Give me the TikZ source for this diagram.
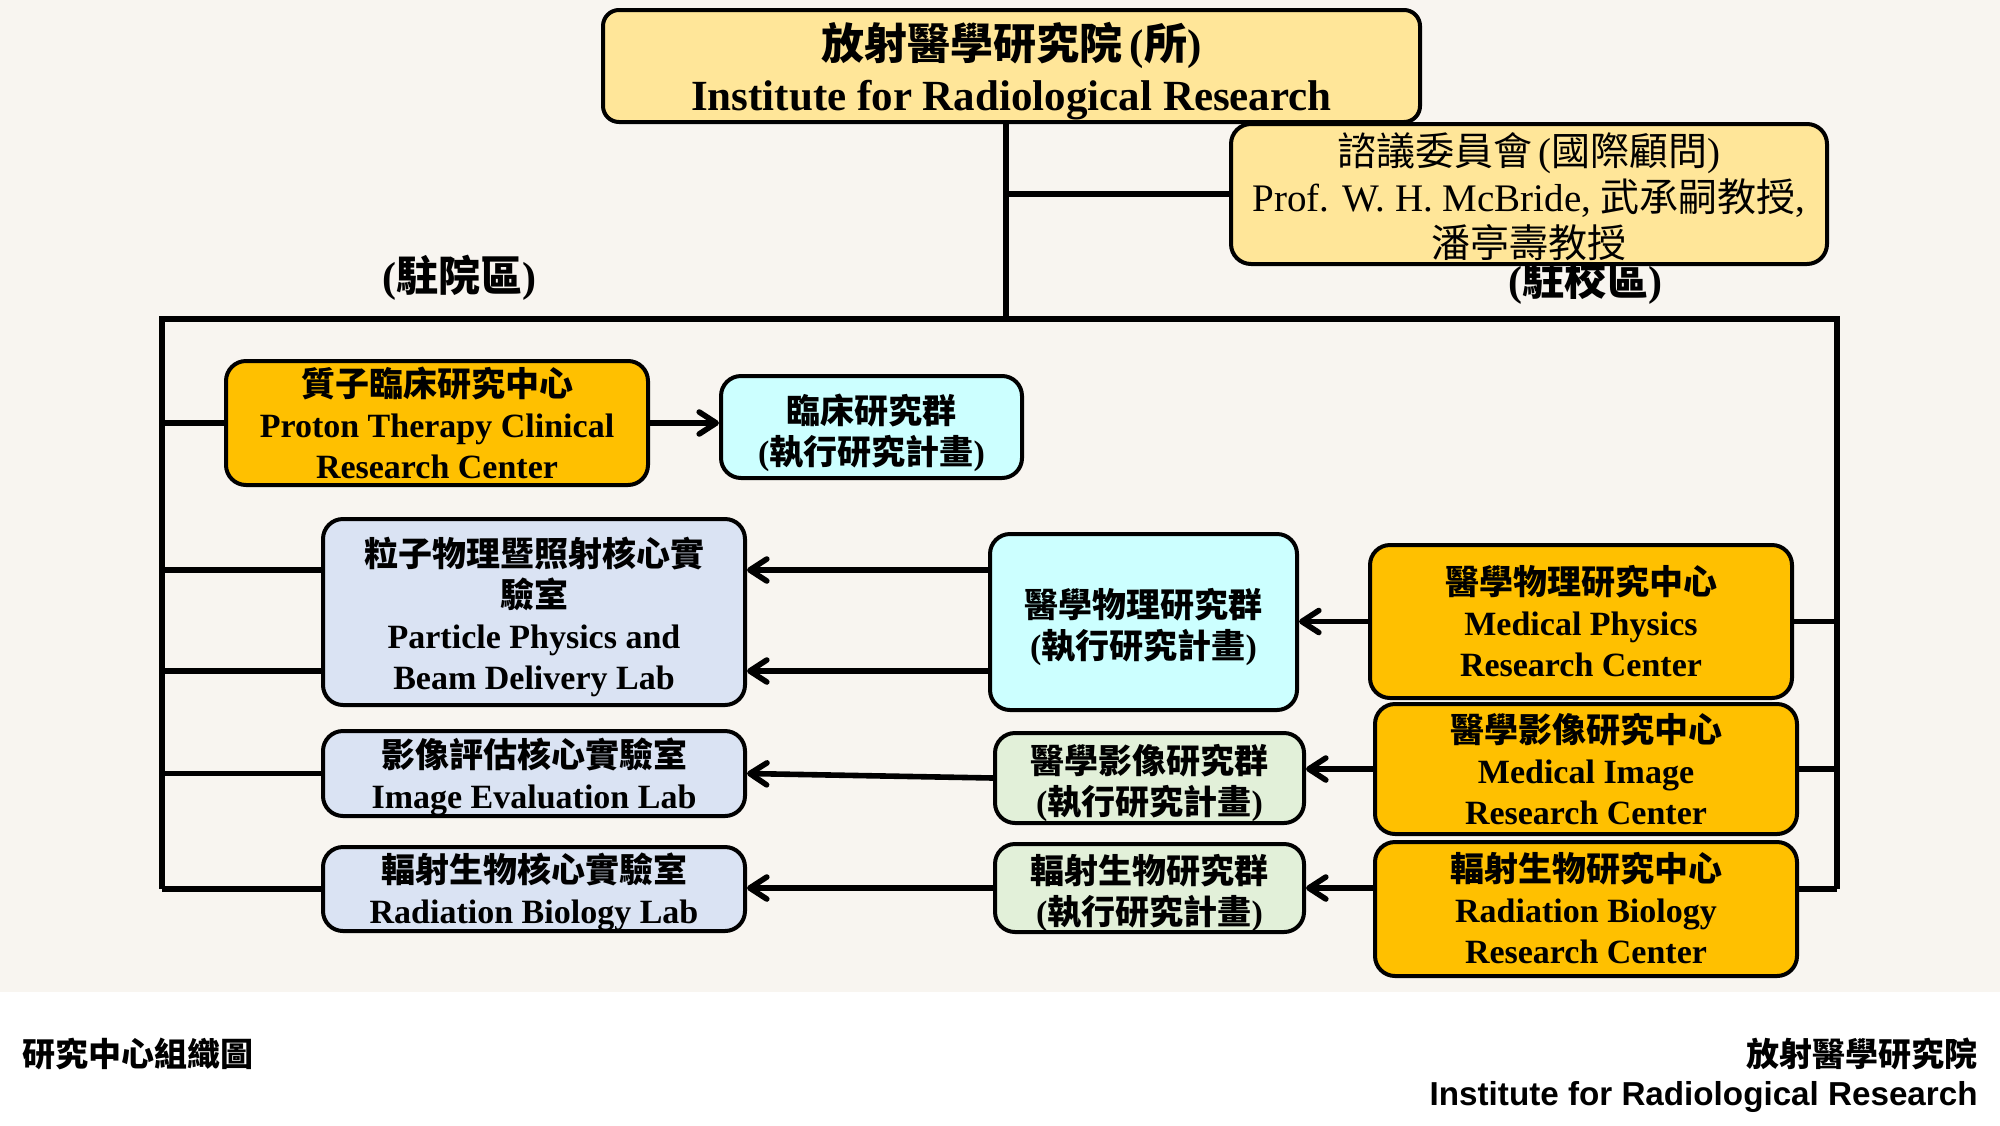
\documentclass[tikz,border=0pt]{standalone}
\usepackage{fontspec}
\setmainfont{Liberation Serif}
\setsansfont{Liberation Sans}
\newfontfamily\cjk{Noto Sans CJK TC}
\usetikzlibrary{arrows.meta}
\definecolor{bgbeige}{RGB}{248,245,240}
\definecolor{lightgold}{RGB}{255,230,153}
\definecolor{gold}{RGB}{255,192,0}
\definecolor{lcyan}{RGB}{204,255,255}
\definecolor{lav}{RGB}{218,227,243}
\definecolor{lgreen}{RGB}{226,240,217}
\newcommand\zh[1]{{\cjk #1}}
\begin{document}
\begin{tikzpicture}[x=0.5pt,y=-0.5pt,
  box/.style={draw=black, line width=2pt, rounded corners=10pt, inner sep=0pt},
  txt/.style={inner sep=0pt, align=center, font=\bfseries\fontsize{17pt}{20.5pt}\selectfont},
  conn/.style={line width=2.8pt},
  arr/.style={conn, -{Straight Barb[length=8.5pt,width=11pt,round]}},
  lbl/.style={font=\bfseries\fontsize{21pt}{25pt}\selectfont, inner sep=0pt}
]
\useasboundingbox (0,0) rectangle (2000,1125);
\fill[white] (0,0) rectangle (2000,1125);
\fill[bgbeige] (0,0) rectangle (2000,992);

% labels
\node[lbl] (lab1) at (459,278) {(\zh{駐院區})};
\node[lbl] (lab2) at (1585,282) {(\zh{駐校區})};

% top boxes
\node[box, fill=lightgold, rounded corners=8pt, minimum width=408.5pt, minimum height=56pt] (top) at (1011.5,66) {};
\node[txt, font=\bfseries\fontsize{21.5pt}{25.5pt}\selectfont] (topt) at ([yshift=-2.5pt]top.center)
  {\zh{放射醫學研究院}\,(\zh{所})\\Institute for Radiological Research};
\node[box, fill=lightgold, minimum width=298pt, minimum height=70pt] (adv) at (1529,194) {};
\node[txt, font=\fontsize{19.5pt}{23pt}\selectfont] (advt) at ([yshift=-1.5pt]adv.center)
  {\zh{諮議委員會}\,(\zh{國際顧問})\\Prof. W. H. McBride, \zh{武承嗣教授},\\\zh{潘亭壽教授}};

% left column
\node[box, fill=gold, minimum width=211pt, minimum height=62pt] (proton) at (437,423) {};
\node[txt] (protont) at (proton.center)
  {\zh{質子臨床研究中心}\\Proton Therapy Clinical\\Research Center};
\node[box, fill=lcyan, minimum width=150.5pt, minimum height=51pt] (clinical) at (871.5,427) {};
\node[txt] (clinicalt) at ([yshift=-3pt]clinical.center)
  {\zh{臨床研究群}\\(\zh{執行研究計畫})};
\node[box, fill=lav, minimum width=211pt, minimum height=93pt] (particle) at (534,612) {};
\node[txt] (particlet) at ([yshift=-2.5pt]particle.center)
  {\zh{粒子物理暨照射核心實}\\\zh{驗室}\\Particle Physics and\\Beam Delivery Lab};
\node[box, fill=lav, minimum width=211pt, minimum height=42.5pt] (imglab) at (534,773.5) {};
\node[txt] (imglabt) at ([yshift=-1.5pt]imglab.center)
  {\zh{影像評估核心實驗室}\\Image Evaluation Lab};
\node[box, fill=lav, minimum width=211pt, minimum height=42pt] (rblab) at (534,889) {};
\node[txt] (rblabt) at ([yshift=-1.5pt]rblab.center)
  {\zh{輻射生物核心實驗室}\\Radiation Biology Lab};

% middle column
\node[box, fill=lcyan, minimum width=153.5pt, minimum height=88pt] (mpgroup) at (1143.5,622) {};
\node[txt] (mpgroupt) at ([yshift=-2.5pt]mpgroup.center)
  {\zh{醫學物理研究群}\\(\zh{執行研究計畫})};
\node[box, fill=lgreen, minimum width=154.5pt, minimum height=45pt] (migroup) at (1149.5,778) {};
\node[txt] (migroupt) at ([yshift=-2.5pt]migroup.center)
  {\zh{醫學影像研究群}\\(\zh{執行研究計畫})};
\node[box, fill=lgreen, minimum width=154.5pt, minimum height=44pt] (rbgroup) at (1149.5,888) {};
\node[txt] (rbgroupt) at ([yshift=-2.5pt]rbgroup.center)
  {\zh{輻射生物研究群}\\(\zh{執行研究計畫})};

% right column
\node[box, fill=gold, minimum width=211pt, minimum height=76.5pt] (mpcenter) at (1581,621.5) {};
\node[txt] (mpcentert) at (mpcenter.center)
  {\zh{醫學物理研究中心}\\Medical Physics\\Research Center};
\node[box, fill=gold, minimum width=211pt, minimum height=65pt] (micenter) at (1586,769) {};
\node[txt] (micentert) at (micenter.center)
  {\zh{醫學影像研究中心}\\Medical Image\\Research Center};
\node[box, fill=gold, minimum width=211pt, minimum height=67pt] (rbcenter) at (1586,909) {};
\node[txt] (rbcentert) at ([yshift=0.5pt]rbcenter.center)
  {\zh{輻射生物研究中心}\\Radiation Biology\\Research Center};

% coordinates
\coordinate (fl) at (162,319);
\coordinate (fr) at (1837,319);
\coordinate (vt) at (1006,122);
\coordinate (vb) at (1006,319);
\coordinate (y570) at (0,570);
\coordinate (y670) at (0,671);
\coordinate (y889) at (0,889);

% frame and trunk
\draw[conn] (vt) -- (vb);
\draw[conn] (vt |- adv.west) -- (adv.west);
\draw[conn] (fl |- y889) -- (fl) -- (fr) -- (fr |- y889);

% left connectors
\draw[conn] (fl |- proton.west) -- (proton.west);
\draw[conn] (fl |- y570) -- (particle.west |- y570);
\draw[conn] (fl |- y670) -- (particle.west |- y670);
\draw[conn] (fl |- imglab.west) -- (imglab.west);
\draw[conn] (fl |- y889) -- (rblab.west |- y889);

% right connectors
\draw[conn] (mpcenter.east) -- (fr |- mpcenter.east);
\draw[conn] (micenter.east) -- (fr |- micenter.east);
\draw[conn] (rbcenter.east |- y889) -- (fr |- y889);

% arrows
\draw[arr] (proton.east) -- (proton.east -| clinical.west);
\draw[arr] (mpgroup.west |- y570) -- (particle.east |- y570);
\draw[arr] (mpgroup.west |- y670) -- (particle.east |- y670);
\draw[arr] (mpcenter.west) -- (mpcenter.west -| mpgroup.east);
\draw[arr] (migroup.west) -- (imglab.east);
\draw[arr] (micenter.west) -- (micenter.west -| migroup.east);
\draw[arr] (rbgroup.west) -- (rbgroup.west -| rblab.east);
\draw[arr] (rbcenter.west |- rbgroup.east) -- (rbgroup.east);

% footer
\node[anchor=west, inner sep=0pt, font=\sffamily\bfseries\fontsize{16.5pt}{20pt}\selectfont] (ft1) at (22,1054) {\zh{研究中心組織圖}};
\node[anchor=east, inner sep=0pt, font=\sffamily\bfseries\fontsize{16.5pt}{20pt}\selectfont] (ft2) at (1978,1054) {\zh{放射醫學研究院}};
\node[anchor=east, inner sep=0pt, font=\sffamily\bfseries\fontsize{16.6pt}{20pt}\selectfont] (ft3) at (1978,1097) {Institute for Radiological Research};
\end{tikzpicture}
\end{document}
